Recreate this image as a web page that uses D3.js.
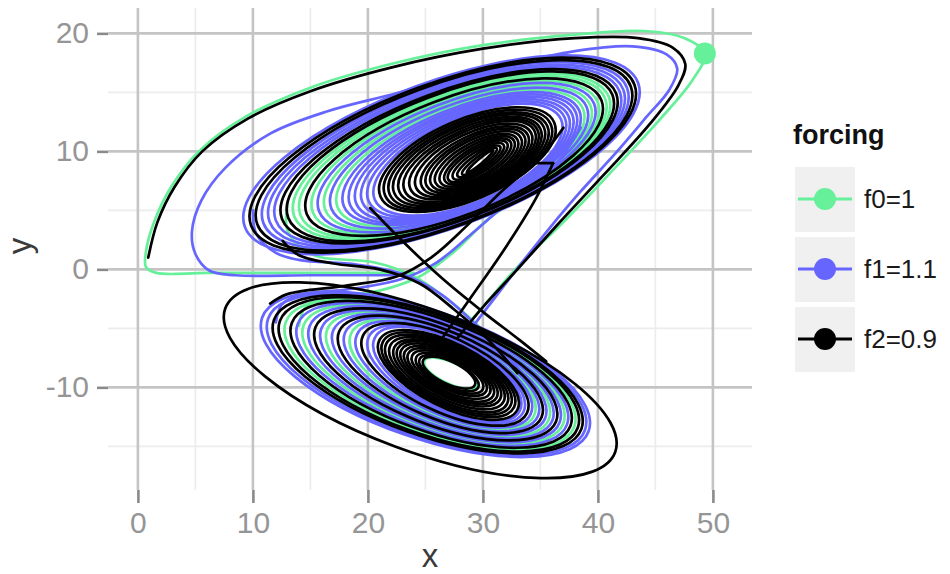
<!DOCTYPE html>
<html><head><meta charset="utf-8">
<script src="https://cdn.jsdelivr.net/npm/d3@7"></script>
<style>
body{margin:0;background:#fff;}
text{font-family:"Liberation Sans",Arial,sans-serif;}
</style>
</head><body>
<svg id="chart" width="950" height="574"></svg>
<script>
// ---------- data ----------
const seriesNames = ["f0=1", "f1=1.1", "f2=0.9"];
const seriesColors = ["#66f09a", "#6666ff", "#000000"];
const xTicks = [0, 10, 20, 30, 40, 50];
const yTicks = [-10, 0, 10, 20];
const xMinor = [5, 15, 25, 35, 45];
const yMinor = [-15, -5, 5, 15];
const startPoint = [49.3, 18.3];

// open trajectory pieces [x, y]
const f0Paths = [
  [[24,-0.3],[15,-0.3],[6,-0.3],[1.6,-0.3],[0.7,0.2],[0.7,1.5],[1.4,4],[2.9,7],[5.3,10],[9.3,12.9],[15,15.4],[22,17.4],[30,19.0],[38,19.9],[44,20.2],[47.5,19.6],[49.3,18.3],[48.2,16],[45.2,12.5],[41.2,8.3],[37,4],[33.2,0.4],[30.5,-2.6],[28.2,-5.2],[26.5,-7]],
  [[13.0,5.5],[13.0,3.3],[14.5,1.6],[16,1.0],[20.5,0.6],[24,-0.6],[27,-2.6],[30,-5.2],[32,-8]],
  [[14,-4.8],[14.5,-3.3],[16,-2.5],[21,-1.8],[24.5,-0.6],[27.5,1.5],[30.5,4.3],[34.5,7],[38,10.5]]
];
const f1Paths = [
  [[23,-0.5],[15,-0.5],[8.5,-0.5],[6.2,-0.1],[5,1.3],[4.7,3.2],[5.5,5.8],[7.6,8.6],[11.5,11.5],[16.5,13.4],[22,14.8],[30,16.8],[38,18.5],[43,18.9],[46,18.2],[46.9,17.0],[46.2,15.2],[44.3,13.0],[41.5,9.8],[38.5,6.6],[35.8,3.5],[33.5,0.7],[31.2,-2.2],[29,-5]],
  [[10.0,5.0],[10.3,3.0],[12,1.4],[14,0.8],[19,0.4],[23,-0.4],[26.5,-2.2],[29.5,-4.8],[32,-7.2],[34,-9.5]],
  [[12,-4.5],[12.5,-3.0],[14,-2.2],[19,-1.6],[23,-0.8],[26,0.6],[29,3.0],[32,5.5],[36,8.5],[38.5,12]]
];
const f2Paths = [
  [[0.9,1.0],[1.7,4],[3.2,7],[5.6,10],[9.6,12.8],[15,15.1],[22,17.1],[30,18.7],[38,19.6],[43.5,19.6],[46.5,18.8],[47.6,17.4],[47,15.6],[44.5,12.3],[40.5,8],[36.5,3.8],[33,0],[30,-3.2],[27.8,-5.8]],
  [[34.4,9.0],[36.1,9.0]],
  [[36.1,9.0],[34.6,6.0],[31.8,1.6],[28.8,-2.6],[26.2,-6.2]],
  [[20.2,5.2],[23,2.4],[26.5,-0.8],[30,-3.6],[33.2,-6.0],[35.5,-7.8]],
  [[12.6,2.4],[14,1.2],[17,0.5],[21,0.0],[24.5,-1.2],[27.5,-3.4],[30.5,-6.0],[33,-8.8]],
  [[11.5,-2.9],[13,-2.1],[18,-1.4],[22.5,-0.6],[25.5,1.0],[28.5,3.6],[31.5,6.5],[35,9.5],[37,12]]
];

// loops: [left tip x, left tip y, right tip x, right tip y, half width (y units)]
const f0Loops = [
  [13.6,4.48,40.95,14.62,5.21],[14.14,4.59,40.63,14.47,5.09],[15.22,4.81,39.99,14.17,4.84],
  [16.3,5.02,39.35,13.88,4.59],[17.37,5.24,38.71,13.58,4.35],
  [12.86,-4.46,37.94,-13.34,4.87],[14.41,-4.73,36.99,-13.07,4.48],[16.47,-5.08,35.73,-12.72,3.95],
  [18.54,-5.44,34.46,-12.36,3.43],
  [24.9,-7.75,29.5,-9.85,0.9]
];
const f1Loops = [
  [9.3,3.6,43.5,15.8,6.2],[10.91,3.93,42.54,15.36,5.83],[11.45,4.04,42.22,15.21,5.7],
  [11.99,4.15,41.9,15.06,5.58],[15.76,4.91,39.67,14.03,4.72],[16.83,5.13,39.03,13.73,4.47],
  [17.91,5.35,38.39,13.44,4.22],[18.45,5.46,38.08,13.29,4.1],[18.99,5.57,37.76,13.14,3.98],
  [19.52,5.68,37.44,12.99,3.85],[20.06,5.79,37.12,12.85,3.73],[20.6,5.9,36.8,12.7,3.6],
  [10.8,-4.1,39.2,-13.7,5.4],[11.32,-4.19,38.88,-13.61,5.27],[13.89,-4.64,37.31,-13.16,4.61],
  [14.93,-4.82,36.67,-12.98,4.35],[15.96,-4.99,36.04,-12.81,4.08],[16.99,-5.17,35.41,-12.63,3.82],
  [18.02,-5.35,34.78,-12.45,3.56],[19.05,-5.53,34.15,-12.27,3.29],[20.08,-5.71,33.52,-12.09,3.03],
  [20.6,-5.8,33.2,-12.0,2.9]
];
const f2Loops = [
  [9.84,3.71,43.18,15.65,6.08],[10.38,3.82,42.86,15.5,5.95],[12.53,4.26,41.59,14.91,5.46],
  [13.07,4.37,41.27,14.77,5.33],[14.68,4.7,40.31,14.32,4.96],
  [21.1,6.15,36.2,12.45,3.4],[21.5,6.25,35.9,12.3,3.25],
  [21.9,6.35,35.6,12.15,3.1],[22.3,6.45,35.3,12.05,2.95],[22.75,6.55,35.0,11.9,2.8],
  [23.2,6.65,34.75,11.8,2.64],[23.7,6.8,34.5,11.7,2.48],[24.2,6.9,34.2,11.55,2.32],
  [24.7,7.0,33.9,11.4,2.14],[25.1,7.1,33.6,11.3,1.96],[25.5,7.2,33.3,11.15,1.8],
  [25.9,7.3,33.0,11.0,1.6],[26.3,7.4,32.7,10.9,1.4],[26.7,7.5,32.4,10.8,1.2],
  [27.0,7.6,32.1,10.7,1.0],[27.4,7.75,31.8,10.55,0.8],[27.8,7.9,31.5,10.4,0.6],
  [28.2,8.05,31.2,10.25,0.4],[28.6,8.2,30.9,10.1,0.2],
  [7.6,-3.3,41.5,-15.5,6.0],
  [11.83,-4.28,38.57,-13.52,5.14],[12.35,-4.37,38.25,-13.43,5.01],[13.38,-4.55,37.62,-13.25,4.74],
  [15.44,-4.91,36.36,-12.89,4.22],[17.5,-5.26,35.1,-12.54,3.69],[19.57,-5.62,33.83,-12.18,3.16],
  [21.0,-6.0,33.0,-11.9,2.7],[21.3,-6.15,32.7,-11.7,2.55],[21.6,-6.3,32.4,-11.55,2.4],
  [21.95,-6.45,32.1,-11.4,2.25],[22.3,-6.6,31.8,-11.2,2.1],[22.6,-6.7,31.5,-11.0,1.95],
  [22.9,-6.85,31.2,-10.85,1.8],[23.2,-7.0,30.9,-10.7,1.65],[23.5,-7.15,30.6,-10.5,1.5],
  [23.85,-7.3,30.3,-10.3,1.35],[24.2,-7.45,30.0,-10.15,1.2],[24.5,-7.6,29.6,-10.0,1.05],
  [24.8,-7.7,29.3,-9.8,0.95]
];

const seriesPaths = [f0Paths, f1Paths, f2Paths];
const seriesLoops = [f0Loops, f1Loops, f2Loops];

// ---------- layout ----------
const panel = {left:108, right:752, top:8, bottom:490};
const svg = d3.select("#chart");
const x = d3.scaleLinear().domain([-2.6, 53.4]).range([panel.left, panel.right]);
const y = d3.scaleLinear().domain([-18.7, 22.15]).range([panel.bottom, panel.top]);

// grid
const g = svg.append("g");
g.selectAll(".vmin").data(xMinor).join("line")
  .attr("x1", d=>x(d)).attr("x2", d=>x(d)).attr("y1", panel.top).attr("y2", panel.bottom)
  .attr("stroke", "#ececec").attr("stroke-width", 1.6);
g.selectAll(".hmin").data(yMinor).join("line")
  .attr("y1", d=>y(d)).attr("y2", d=>y(d)).attr("x1", panel.left).attr("x2", panel.right)
  .attr("stroke", "#ececec").attr("stroke-width", 1.6);
g.selectAll(".vmaj").data(xTicks).join("line")
  .attr("x1", d=>x(d)).attr("x2", d=>x(d)).attr("y1", panel.top).attr("y2", panel.bottom)
  .attr("stroke", "#c4c4c4").attr("stroke-width", 2.6);
g.selectAll(".hmaj").data(yTicks).join("line")
  .attr("y1", d=>y(d)).attr("y2", d=>y(d)).attr("x1", panel.left).attr("x2", panel.right)
  .attr("stroke", "#c4c4c4").attr("stroke-width", 2.6);

// axes
const fmt = d => String(d);
const xAxis = d3.axisBottom(x).tickValues(xTicks).tickFormat(fmt).tickSize(13).tickPadding(9);
const yAxis = d3.axisLeft(y).tickValues(yTicks).tickFormat(fmt).tickSize(11).tickPadding(8);
const gx = svg.append("g").attr("transform", `translate(0,${panel.bottom})`).call(xAxis);
const gy = svg.append("g").attr("transform", `translate(${panel.left},0)`).call(yAxis);
[gx, gy].forEach(a => {
  a.select(".domain").remove();
  a.selectAll(".tick line").attr("stroke", "#8a8a8a").attr("stroke-width", 2.6);
  a.selectAll(".tick text").attr("fill", "#959595").style("font-size", "30px")
   .style("font-family", "'Liberation Sans', Arial, sans-serif");
});

// axis titles
svg.append("text").attr("x", 430).attr("y", 567).attr("text-anchor", "middle")
  .attr("fill", "#3a3a3a").style("font-size", "33px").text("x");
svg.append("text").attr("transform", "translate(31,246) rotate(-90)").attr("text-anchor", "middle")
  .attr("fill", "#3a3a3a").style("font-size", "33px").text("y");

// clip
svg.append("clipPath").attr("id", "clip").append("rect")
  .attr("x", panel.left).attr("y", panel.top)
  .attr("width", panel.right - panel.left).attr("height", panel.bottom - panel.top);
const plot = svg.append("g").attr("clip-path", "url(#clip)");

const lineGen = d3.line().x(d => x(d[0])).y(d => y(d[1])).curve(d3.curveCatmullRom.alpha(0.5));
const SW = 2.7;

function loopAttrs(r) {
  const x1 = x(r[0]), y1 = y(r[1]), x2 = x(r[2]), y2 = y(r[3]);
  const cx = (x1 + x2) / 2, cy = (y1 + y2) / 2;
  const rx = Math.hypot(x2 - x1, y2 - y1) / 2;
  const ang = Math.atan2(y2 - y1, x2 - x1) * 180 / Math.PI;
  const ry = Math.abs(y(0) - y(r[4]));
  return {cx, cy, rx, ry, ang};
}

seriesNames.forEach((name, i) => {
  const sg = plot.append("g");
  sg.selectAll("ellipse").data(seriesLoops[i]).join("ellipse")
    .each(function(r) {
      const a = loopAttrs(r);
      d3.select(this).attr("cx", a.cx).attr("cy", a.cy).attr("rx", a.rx).attr("ry", a.ry)
        .attr("transform", `rotate(${a.ang},${a.cx},${a.cy})`);
    })
    .attr("fill", "none").attr("stroke", seriesColors[i]).attr("stroke-width", SW);
  sg.selectAll("path").data(seriesPaths[i]).join("path")
    .attr("d", lineGen).attr("fill", "none")
    .attr("stroke", seriesColors[i]).attr("stroke-width", SW)
    .attr("stroke-linejoin", "round").attr("stroke-linecap", "round");
});

// start point
svg.append("circle").attr("cx", x(startPoint[0])).attr("cy", y(startPoint[1])).attr("r", 11)
  .attr("fill", seriesColors[0]);

// legend
const lg = svg.append("g");
lg.append("text").attr("x", 793).attr("y", 144).style("font-size", "27px")
  .style("font-weight", "bold").attr("fill", "#111").text("forcing");
const keyY = [167, 237, 307];
seriesNames.forEach((name, i) => {
  const ky = keyY[i];
  lg.append("rect").attr("x", 795).attr("y", ky).attr("width", 60).attr("height", 65)
    .attr("fill", "#f0f0f0");
  lg.append("line").attr("x1", 798).attr("x2", 852).attr("y1", ky + 32).attr("y2", ky + 32)
    .attr("stroke", seriesColors[i]).attr("stroke-width", 3);
  lg.append("circle").attr("cx", 825).attr("cy", ky + 32).attr("r", 11).attr("fill", seriesColors[i]);
  lg.append("text").attr("x", 864).attr("y", ky + 32).attr("dy", "0.36em")
    .style("font-size", "26px").attr("fill", "#1a1a1a").text(name);
});
</script>
</body></html>
